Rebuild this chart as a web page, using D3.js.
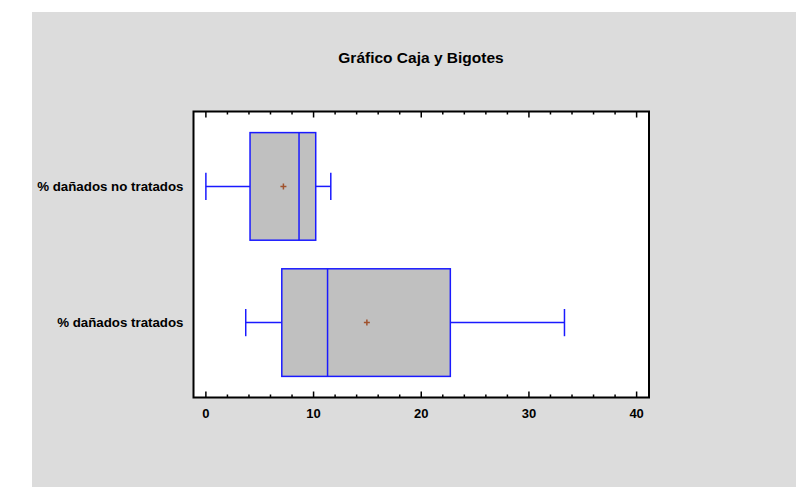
<!DOCTYPE html>
<html>
<head>
<meta charset="utf-8">
<script src="https://cdn.jsdelivr.net/npm/d3@7"></script>
<style>
  body { margin: 0; background: #ffffff; }
  svg text { font-family: Arial, "Liberation Sans", sans-serif; font-weight: bold; fill: #000; }
</style>
</head>
<body>
<div id="chart"></div>
<script>
// datos del gráfico
const categories = ["% dañados no tratados", "% dañados tratados"];
const minValues = [0, 3.7];
const q1Values = [4.1, 7.05];
const medianValues = [8.65, 11.3];
const q3Values = [10.2, 22.7];
const maxValues = [11.6, 33.3];
const meanValues = [7.2, 14.95];
const xTicks = [0, 10, 20, 30, 40];

const W = 796, H = 487;
const margin = { top: 111.5, right: 147, bottom: 89.5, left: 193.5 };
const width = W - margin.left - margin.right;
const height = H - margin.top - margin.bottom;

const svg = d3.select("#chart").append("svg")
  .attr("width", W)
  .attr("height", H);

// fondo gris
svg.append("rect")
  .attr("x", 32).attr("y", 12)
  .attr("width", W - 32).attr("height", H - 12)
  .attr("fill", "#dcdcdc");

svg.append("text")
  .attr("x", 421).attr("y", 63)
  .attr("text-anchor", "middle")
  .style("font-size", "15.5px")
  .text("Gráfico Caja y Bigotes");

const g = svg.append("g")
  .attr("transform", `translate(${margin.left},${margin.top})`);

g.append("rect")
  .attr("width", width).attr("height", height)
  .attr("fill", "#ffffff");

const x = d3.scaleLinear().domain([-1.15, 41.15]).range([0, width]);
const y = d3.scalePoint().domain(categories).range([0, height]).padding(0.55);
const step = y.step();
const boxH = step * 0.79;
const capH = step * 0.2;

// cajas
categories.forEach((c, i) => {
  const cy = y(c);
  const stroke = "#1a1aff";
  g.append("line")
    .attr("x1", x(minValues[i])).attr("x2", x(q1Values[i]))
    .attr("y1", cy).attr("y2", cy)
    .attr("stroke", stroke).attr("stroke-width", 1.5);
  g.append("line")
    .attr("x1", x(q3Values[i])).attr("x2", x(maxValues[i]))
    .attr("y1", cy).attr("y2", cy)
    .attr("stroke", stroke).attr("stroke-width", 1.5);
  [minValues[i], maxValues[i]].forEach(v => {
    g.append("line")
      .attr("x1", x(v)).attr("x2", x(v))
      .attr("y1", cy - capH / 2).attr("y2", cy + capH / 2)
      .attr("stroke", stroke).attr("stroke-width", 1.5);
  });
  g.append("rect")
    .attr("x", x(q1Values[i])).attr("y", cy - boxH / 2)
    .attr("width", x(q3Values[i]) - x(q1Values[i])).attr("height", boxH)
    .attr("fill", "#c0c0c0")
    .attr("stroke", stroke).attr("stroke-width", 1.5);
  g.append("line")
    .attr("x1", x(medianValues[i])).attr("x2", x(medianValues[i]))
    .attr("y1", cy - boxH / 2).attr("y2", cy + boxH / 2)
    .attr("stroke", stroke).attr("stroke-width", 1.5);
  // media
  const mx = x(meanValues[i]);
  g.append("path")
    .attr("d", `M${mx - 3},${cy}H${mx + 3}M${mx},${cy - 3}V${cy + 3}`)
    .attr("stroke", "#a0522d").attr("stroke-width", 1.5);
});

// ejes
const minor = d3.range(0, 42, 2);
g.selectAll(".tb").data(minor).enter().append("line")
  .attr("x1", d => x(d)).attr("x2", d => x(d))
  .attr("y1", height).attr("y2", d => height - (d % 10 === 0 ? 6 : 3))
  .attr("stroke", "#000").attr("stroke-width", 1.5);
g.selectAll(".tt").data(minor).enter().append("line")
  .attr("x1", d => x(d)).attr("x2", d => x(d))
  .attr("y1", 0).attr("y2", d => (d % 10 === 0 ? 6 : 3))
  .attr("stroke", "#000").attr("stroke-width", 1.5);

g.append("rect")
  .attr("width", width).attr("height", height)
  .attr("fill", "none")
  .attr("stroke", "#000").attr("stroke-width", 2);

g.selectAll(".xl").data(xTicks).enter().append("text")
  .attr("x", d => x(d)).attr("y", height + 20)
  .attr("text-anchor", "middle")
  .style("font-size", "13px")
  .text(d => d);

g.selectAll(".yl").data(categories).enter().append("text")
  .attr("x", -10).attr("y", d => y(d) + 4.5)
  .attr("text-anchor", "end")
  .style("font-size", "13.3px")
  .text(d => d);
</script>
</body>
</html>
